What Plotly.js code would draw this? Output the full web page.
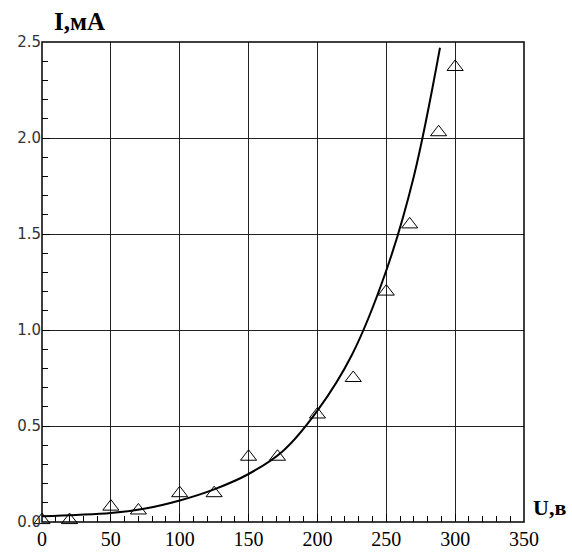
<!DOCTYPE html>
<html><head><meta charset="utf-8">
<script src="https://cdn.plot.ly/plotly-3.0.1.min.js"></script>
<style>html,body{margin:0;padding:0;background:#fff}</style>
</head><body><div id="chart" style="width:572px;height:554px"></div>
<script>
// measured points (triangles)
const pointsU = [0, 20, 50, 70, 100, 125, 150, 171, 200, 226, 250, 267, 288, 300];
const pointsI = [0.01, 0.01, 0.08, 0.06, 0.15, 0.15, 0.34, 0.34, 0.56, 0.75, 1.2, 1.55, 2.03, 2.37];
// fitted curve
const curveU = [0, 25, 50, 75, 100, 125, 150, 175, 200, 225, 250, 270, 289];
const curveI = [0.03, 0.037, 0.047, 0.07, 0.112, 0.17, 0.25, 0.37, 0.58, 0.87, 1.31, 1.8, 2.47];
const xRange = [0, 350];
const yRange = [0, 2.5];

const data = [
  {x: curveU, y: curveI, mode: 'lines', line: {color: '#000', width: 2, shape: 'spline', smoothing: 1}, hoverinfo: 'skip'},
  {x: pointsU, y: pointsI, mode: 'markers', marker: {symbol: 'triangle-up-open', size: 14, color: '#000', line: {color: '#000', width: 1}}, cliponaxis: false}
];
const layout = {
  width: 572, height: 554,
  margin: {l: 42, r: 48, t: 42, b: 32},
  showlegend: false,
  xaxis: {
    range: xRange, dtick: 50,
    gridcolor: '#222',
    ticks: 'inside', ticklen: 8, tickwidth: 1, tickcolor: '#000', zeroline: false,
    ticklabelstandoff: 3,
    tickfont: {family: 'Liberation Serif', size: 20, color: '#000'},
    minor: {dtick: 10, ticks: 'inside', ticklen: 6, tickcolor: '#000', tickwidth: 1.2}
  },
  yaxis: {
    range: yRange, dtick: 0.5, tickformat: '.1f',
    gridcolor: '#222',
    ticks: 'inside', ticklen: 8, tickwidth: 1, tickcolor: '#000', zeroline: false,
    tickfont: {family: 'DejaVu Sans', size: 15, color: '#333'},
    minor: {dtick: 0.1, ticks: 'inside', ticklen: 6, tickcolor: '#000', tickwidth: 1.2}
  },
  shapes: [
    {type: 'rect', xref: 'paper', yref: 'paper', x0: 0, x1: 1, y0: 0, y1: 1, line: {color: '#000', width: 1.5}, layer: 'above'}
  ],
  annotations: [
    {text: '<b>I,мА</b>', xref: 'paper', yref: 'paper', x: 0.02, y: 1.01, xanchor: 'left', yanchor: 'bottom', showarrow: false, font: {family: 'Liberation Serif', size: 25, color: '#000'}},
    {text: '<b>U,в</b>', xref: 'paper', yref: 'paper', x: 1.015, y: 0.0, xanchor: 'left', yanchor: 'bottom', showarrow: false, font: {family: 'Liberation Serif', size: 22, color: '#000'}}
  ]
};
Plotly.newPlot('chart', data, layout, {displayModeBar: false});
</script></body></html>
